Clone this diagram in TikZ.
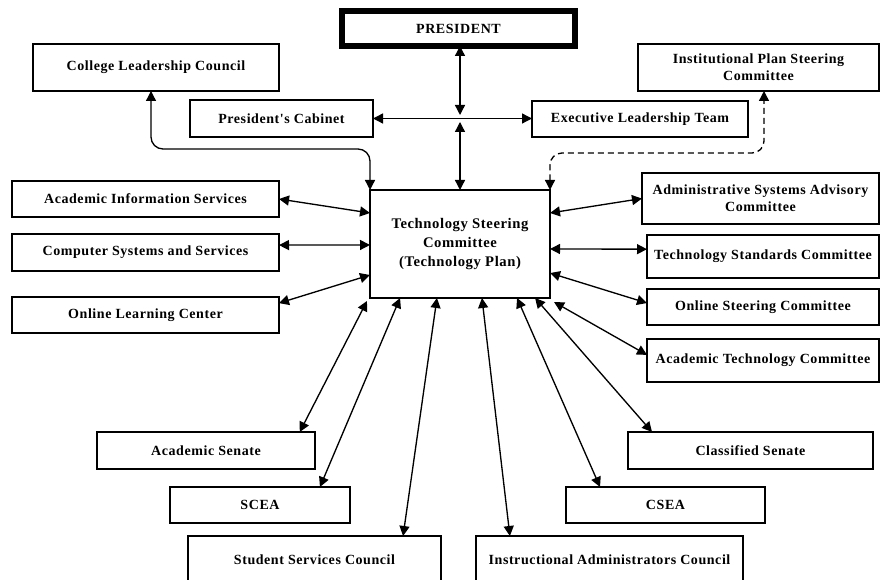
\documentclass[tikz,border=0pt]{standalone}
\usepackage{fontspec}
\setmainfont{Liberation Serif}
\newfontfamily\boxfont[LetterSpace=4]{Liberation Serif}
\usetikzlibrary{calc,arrows.meta}
\newcommand\bxnode[7][]{%
  \node[box,#1,minimum width={(#4-#2)*0.75pt},minimum height={(#5-#3)*0.75pt}]
    (#6) at ({(#2+#4)/2},{(#3+#5)/2}) {#7};}
\tikzset{
  box/.style={draw,line width=1pt,inner sep=0pt,outer sep=0pt,align=center,
    font=\boxfont\fontsize{10.5}{13}\selectfont\bfseries},
  dar/.style={line width=1pt,arrows={Triangle[length=7.5pt,width=7.5pt]-Triangle[length=7.5pt,width=7.5pt]}},
}
\begin{document}
\begin{tikzpicture}[x=0.75pt,y=-0.75pt]
\useasboundingbox (0,0) rectangle (881,580);
% boxes
\bxnode[line width=4.5pt]{342}{11.5}{575}{46}{pres}{PRESIDENT}
\bxnode{33}{44}{279}{91}{clc}{College Leadership Council}
\bxnode{190}{100}{373}{137}{pc}{President's Cabinet}
\bxnode{532}{101}{748}{137}{elt}{Executive Leadership Team}
\bxnode{638}{44}{879}{91}{ipsc}{Institutional Plan Steering\\Committee}
\bxnode[font=\boxfont\fontsize{11}{14.5}\selectfont\bfseries]{370}{190}{550}{298}{tsc}{Technology Steering\\Committee\\(Technology Plan)}
\bxnode{12}{181}{279}{217}{ais}{Academic Information Services}
\bxnode{12}{234}{279}{271}{css}{Computer Systems and Services}
\bxnode{12}{297}{279}{333}{olc}{Online Learning Center}
\bxnode{642}{173}{879}{224}{asac}{Administrative Systems Advisory\\Committee}
\bxnode{647}{235}{879}{278}{tstc}{Technology Standards Committee}
\bxnode{647}{289}{879}{325}{osc}{Online Steering Committee}
\bxnode{647}{339}{879}{382}{atc}{Academic Technology Committee}
\bxnode{97}{432}{315}{469}{as}{Academic Senate}
\bxnode{170}{487}{350}{523}{scea}{SCEA}
\bxnode{188}{536}{441}{583}{ssc}{Student Services Council}
\bxnode{476}{536}{743}{583}{iac}{Instructional Administrators Council}
\bxnode{566}{487}{765}{523}{csea}{CSEA}
\bxnode{628}{432}{873}{469}{cs}{Classified Senate}
% helper coordinates
\coordinate (j1) at (460,115);
\coordinate (j2) at (460,122);
\coordinate (clcA) at (151,149);
\coordinate (ipA) at (764,153);
% top connectors
\draw[dar] (pres.south -| tsc.north) -- (j1);
\draw[dar] (j2) -- (tsc.north);
\draw[dar] (pc.east) -- (pc.east -| elt.west);
\draw[dar,rounded corners=9pt] (tsc.north west) |- (clcA) -- (clcA |- clc.south);
\draw[dar,dash pattern=on 4.5pt off 3pt,rounded corners=9pt] (tsc.north east) |- (ipA) -- (ipA |- ipsc.south);
% left
\draw[dar] (ais.east) -- ($(tsc.north west)!0.213!(tsc.south west)$);
\draw[dar] ($(css.north east)!0.3!(css.south east)$) -- ($(tsc.north west)!0.509!(tsc.south west)$);
\draw[dar] ($(olc.north east)!0.17!(olc.south east)$) -- ($(tsc.north west)!0.787!(tsc.south west)$);
% right
\draw[dar] ($(tsc.north east)!0.213!(tsc.south east)$) -- (asac.west);
\draw[dar] ($(tsc.north east)!0.546!(tsc.south east)$) -- ($(tstc.north west)!0.33!(tstc.south west)$);
\draw[dar] ($(tsc.north east)!0.769!(tsc.south east)$) -- ($(osc.north west)!0.39!(osc.south west)$);
\draw[dar] ([shift={(4,4)}]tsc.south east) -- ($(atc.north west)!0.37!(atc.south west)$);
% bottom
\draw[dar] ([shift={(-3,3)}]tsc.south west) -- ($(as.north west)!0.93!(as.north east)$);
\draw[dar] ($(tsc.south west)!0.167!(tsc.south east)$) -- ($(scea.north west)!0.833!(scea.north east)$);
\draw[dar] ($(tsc.south west)!0.372!(tsc.south east)$) -- ($(ssc.north west)!0.85!(ssc.north east)$);
\draw[dar] ($(tsc.south west)!0.622!(tsc.south east)$) -- ($(iac.north west)!0.127!(iac.north east)$);
\draw[dar] ($(tsc.south west)!0.817!(tsc.south east)$) -- ($(csea.north west)!0.171!(csea.north east)$);
\draw[dar] ($(tsc.south west)!0.917!(tsc.south east)$) -- ($(cs.north west)!0.098!(cs.north east)$);
\end{tikzpicture}
\end{document}
